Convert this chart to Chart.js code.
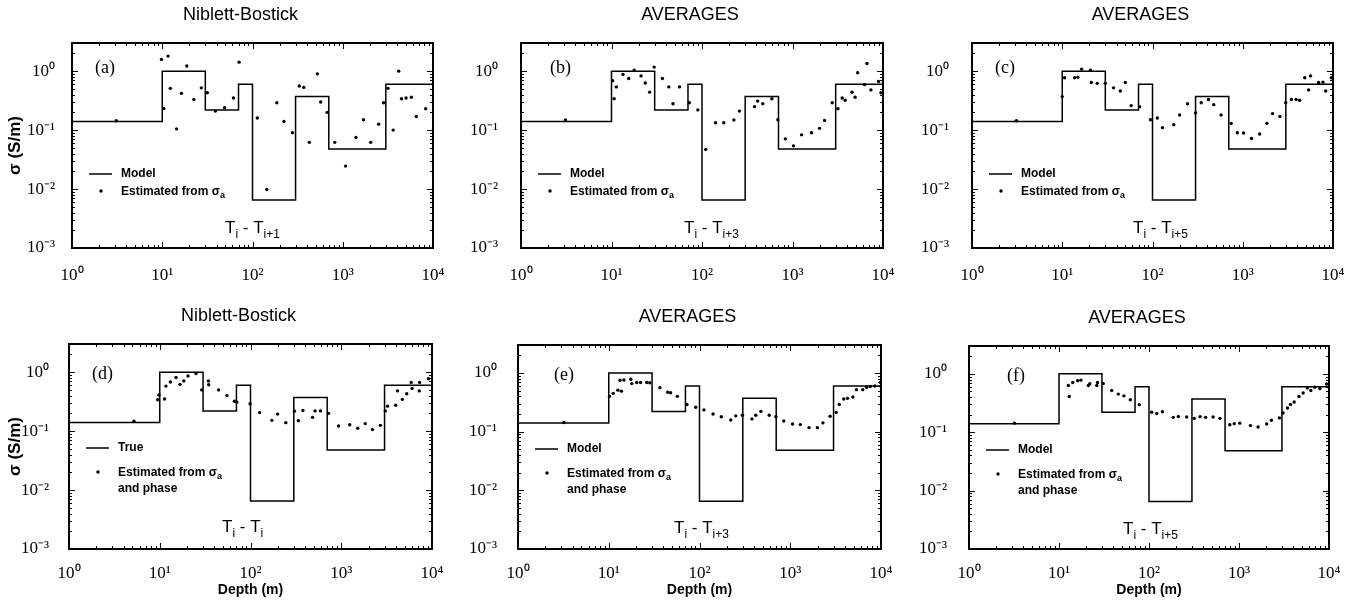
<!DOCTYPE html>
<html>
<head>
<meta charset="utf-8">
<script src="https://cdn.jsdelivr.net/npm/chart.js@4.4.1/dist/chart.umd.min.js"></script>
<style>
body { margin: 0; background: #fff; }
#fig { position: relative; width: 1357px; height: 603px; overflow: hidden; background: #fff; }
#fig canvas { position: absolute; }
</style>
</head>
<body>
<div id="fig"></div>
<script>
// layered model (step function), depth in m, conductivity in S/m
const modelDepth = [1, 10, 30, 70, 100, 300, 700, 3000, 10000];
const modelSigma = [0.14, 1.0, 0.22, 0.6, 0.0065, 0.37, 0.048, 0.6, 0.6];

// (a) Niblett-Bostick, Ti - Ti+1
const depthA = [3.1, 9.8, 11.6, 10.4, 12.3, 14.4, 16.3, 18.7, 22.4, 27.1, 31.6, 38.8, 49, 61.5, 71, 113, 144, 186, 223, 277, 330, 370, 426, 523, 569, 673, 815, 1075, 1400, 1700, 2040, 2500, 2830, 3170, 3620, 4170, 4470, 5030, 5760, 6530, 8300];
const sigmaA = [0.144, 1.58, 1.8, 0.233, 0.51, 0.105, 0.42, 1.22, 0.33, 0.52, 0.43, 0.21, 0.24, 0.35, 1.42, 0.16, 0.0098, 0.29, 0.14, 0.09, 0.56, 0.53, 0.062, 0.9, 0.3, 0.2, 0.062, 0.0245, 0.075, 0.15, 0.062, 0.126, 0.29, 0.51, 0.1, 1.0, 0.34, 0.35, 0.36, 0.17, 0.23];

// (b) averages, Ti - Ti+3
const depthB = [3.1, 10.3, 11.3, 10.7, 13.4, 15.5, 17.8, 21.2, 23.6, 26.4, 29.6, 36.5, 43, 47.8, 56.4, 72.4, 90, 110, 141, 174, 225, 259, 381, 412, 469, 592, 688, 834, 1025, 1260, 1620, 1990, 2260, 2750, 3180, 3540, 3820, 4550, 4920, 5250, 6250, 6650, 7360, 8930, 9500];
const sigmaB = [0.148, 0.69, 0.54, 0.34, 0.88, 0.75, 1.04, 0.83, 0.63, 0.44, 1.17, 0.75, 0.54, 0.28, 0.54, 0.29, 0.22, 0.047, 0.133, 0.133, 0.148, 0.21, 0.25, 0.31, 0.28, 0.34, 0.15, 0.071, 0.054, 0.083, 0.09, 0.107, 0.146, 0.29, 0.23, 0.35, 0.32, 0.44, 0.36, 0.94, 0.59, 1.35, 0.48, 0.67, 0.43];

// (c) averages, Ti - Ti+5
const depthC = [3.1, 10, 10.6, 13.7, 14.9, 16.4, 20.5, 21, 24.4, 30, 37, 44, 50, 58, 72, 95, 113, 129, 172, 200, 245, 300, 347, 417, 477, 576, 745, 870, 1020, 1250, 1540, 1850, 2140, 2580, 2990, 3460, 3900, 4270, 4860, 5640, 5370, 6920, 7740, 8300, 9570];
const sigmaC = [0.144, 0.37, 0.77, 0.77, 0.79, 1.08, 1.04, 0.64, 0.62, 0.62, 0.52, 0.46, 0.64, 0.26, 0.25, 0.15, 0.16, 0.11, 0.123, 0.18, 0.28, 0.195, 0.29, 0.33, 0.27, 0.18, 0.13, 0.09, 0.089, 0.072, 0.086, 0.13, 0.19, 0.17, 0.29, 0.33, 0.33, 0.32, 0.77, 0.83, 0.48, 0.64, 0.65, 0.46, 0.77];

// (d) Niblett-Bostick with phase, Ti - Ti
const depthD = [5.2, 9.5, 9.8, 11.3, 11.7, 13.1, 15.1, 16.7, 18.4, 20.5, 25.1, 29, 34.4, 34.6, 44.5, 55, 66.5, 70.7, 99, 126, 172, 199, 245, 305, 337, 378, 482, 515, 590, 724, 935, 1240, 1520, 1840, 2210, 2700, 3060, 3240, 3980, 4170, 4710, 5270, 6030, 5900, 7300, 7240, 9140];
const sigmaD = [0.147, 0.34, 0.41, 0.35, 0.58, 0.68, 0.81, 0.62, 0.71, 0.86, 0.95, 0.5, 0.71, 0.61, 0.5, 0.4, 0.32, 0.31, 0.29, 0.206, 0.152, 0.194, 0.139, 0.218, 0.15, 0.223, 0.171, 0.22, 0.22, 0.2, 0.122, 0.128, 0.112, 0.134, 0.106, 0.125, 0.22, 0.265, 0.275, 0.48, 0.345, 0.43, 0.53, 0.67, 0.67, 0.48, 0.77];

// (e) averages with phase, Ti - Ti+3
const depthE = [3.2, 10.2, 11.2, 12.6, 13.3, 13.8, 14.7, 17.5, 17.9, 20.3, 22.4, 26.2, 28.3, 36.6, 44.6, 48, 57, 72.8, 91, 112, 141, 174, 221, 251, 297, 378, 417, 475, 586, 695, 848, 1060, 1290, 1610, 1990, 2290, 2750, 3210, 3470, 3880, 4270, 4900, 5350, 6300, 6940, 7620, 8530, 9900];
const sigmaE = [0.143, 0.4, 0.45, 0.51, 0.75, 0.49, 0.76, 0.78, 0.66, 0.69, 0.69, 0.69, 0.68, 0.56, 0.47, 0.46, 0.4, 0.29, 0.26, 0.235, 0.2, 0.18, 0.158, 0.186, 0.19, 0.165, 0.19, 0.22, 0.19, 0.18, 0.152, 0.135, 0.132, 0.117, 0.117, 0.141, 0.183, 0.213, 0.29, 0.36, 0.37, 0.39, 0.52, 0.52, 0.57, 0.59, 0.6, 0.69];

// (f) averages with phase, Ti - Ti+5
const depthF = [3.2, 12.7, 13, 14.2, 16.1, 17.5, 21.2, 22, 26.3, 26.8, 31, 38.5, 45.6, 52.6, 62, 78, 107, 122, 141, 186, 212, 262, 318, 369, 425, 516, 614, 791, 886, 1020, 1340, 1630, 2030, 2290, 2810, 3090, 3460, 3740, 4100, 4640, 5160, 5740, 6280, 6940, 7930, 9400];
const sigmaF = [0.143, 0.63, 0.41, 0.71, 0.76, 0.78, 0.63, 0.68, 0.63, 0.71, 0.68, 0.52, 0.45, 0.42, 0.36, 0.295, 0.22, 0.21, 0.224, 0.18, 0.186, 0.182, 0.173, 0.185, 0.18, 0.182, 0.173, 0.134, 0.14, 0.143, 0.13, 0.123, 0.138, 0.16, 0.176, 0.214, 0.26, 0.3, 0.33, 0.41, 0.47, 0.57, 0.52, 0.59, 0.56, 0.67];

const xTicks = [1, 10, 100, 1000, 10000];
const xTickLabels = ['10⁰', '10¹', '10²', '10³', '10⁴'];
const yTicks = [0.001, 0.01, 0.1, 1];
const yTickLabels = ['10⁻³', '10⁻²', '10⁻¹', '10⁰'];

const SANS = '"Liberation Sans", Arial, Helvetica, sans-serif';
const SERIF = '"Liberation Serif", "Times New Roman", serif';

// plot = [left, top, right, bottom] of the frame in page pixels
const panels = [
  { letter: 'a', title: 'Niblett-Bostick', left: 0, top: 0, w: 445, h: 290, plot: [72, 43, 433, 248], gap: 9, ytitle: true,
    depth: depthA, sigma: sigmaA, line: 'Model', phase: false, sub: 'i+1', lx: 23, tx: 153 },
  { letter: 'b', title: 'AVERAGES', left: 445, top: 0, w: 450, h: 290, plot: [521, 43, 883, 248], gap: 15, ytitle: false,
    depth: depthB, sigma: sigmaB, line: 'Model', phase: false, sub: 'i+3', lx: 29, tx: 163 },
  { letter: 'c', title: 'AVERAGES', left: 895, top: 0, w: 462, h: 290, plot: [972, 43, 1333, 248], gap: 15, ytitle: false,
    depth: depthC, sigma: sigmaC, line: 'Model', phase: false, sub: 'i+5', lx: 23, tx: 161 },
  { letter: 'd', title: 'Niblett-Bostick', left: 0, top: 290, w: 445, h: 313, plot: [69, 344, 432, 549], gap: 12, ytitle: true,
    depth: depthD, sigma: sigmaD, line: 'True', phase: true, sub: 'i', lx: 23, tx: 153 },
  { letter: 'e', title: 'AVERAGES', left: 445, top: 290, w: 450, h: 313, plot: [518, 345, 881, 549], gap: 13, ytitle: false,
    depth: depthE, sigma: sigmaE, line: 'Model', phase: true, sub: 'i+3', lx: 36, tx: 156 },
  { letter: 'f', title: 'AVERAGES', left: 895, top: 290, w: 462, h: 313, plot: [969, 346, 1329, 549], gap: 14, ytitle: false,
    depth: depthF, sigma: sigmaF, line: 'Model', phase: true, sub: 'i+5', lx: 38, tx: 154 }
];

function drawRuns(ctx, x, y, runs, size, subSize, drop, weight) {
  ctx.textAlign = 'left';
  ctx.textBaseline = 'alphabetic';
  runs.forEach(([t, sub]) => {
    ctx.font = weight + ' ' + (sub ? subSize : size) + 'px ' + SANS;
    ctx.fillText(t, x, y + (sub ? drop : 0));
    x += ctx.measureText(t).width;
  });
}

const decor = {
  id: 'decor',
  afterDraw(chart, args, o) {
    const ctx = chart.ctx;
    const a = chart.chartArea;
    const xs = chart.scales.x;
    const ys = chart.scales.y;
    ctx.save();

    // inward ticks on all four sides
    ctx.strokeStyle = '#000';
    ctx.lineWidth = 1;
    ctx.beginPath();
    for (let d = 0; d < 4; d++) {
      for (let m = 1; m < 10; m++) {
        const px = Math.round(xs.getPixelForValue(m * Math.pow(10, d))) + 0.5;
        const len = m === 1 ? 6 : 3;
        ctx.moveTo(px, a.bottom); ctx.lineTo(px, a.bottom - len);
        ctx.moveTo(px, a.top); ctx.lineTo(px, a.top + len);
      }
    }
    for (let d = -3; d <= 0; d++) {
      for (let m = 1; m < 10; m++) {
        const v = m * Math.pow(10, d);
        if (v > 3) break;
        const py = Math.round(ys.getPixelForValue(v)) + 0.5;
        const len = m === 1 ? 6 : 3;
        ctx.moveTo(a.left, py); ctx.lineTo(a.left + len, py);
        ctx.moveTo(a.right, py); ctx.lineTo(a.right - len, py);
      }
    }
    ctx.stroke();

    // frame
    ctx.lineWidth = 2;
    ctx.strokeRect(a.left, a.top, a.right - a.left, a.bottom - a.top);

    ctx.fillStyle = '#000';

    // panel title
    ctx.font = '18px ' + SANS;
    ctx.textAlign = 'center';
    ctx.textBaseline = 'middle';
    ctx.fillText(o.title, (a.left + a.right) / 2 - 12, a.top - 28);

    // panel letter
    ctx.font = '18px ' + SERIF;
    ctx.textAlign = 'left';
    ctx.fillText('(' + o.letter + ')', a.left + o.lx, a.top + (o.phase ? 30 : 25));

    // legend
    const ly = a.top + (o.phase ? 104 : 131);
    ctx.lineWidth = 1.5;
    ctx.beginPath();
    ctx.moveTo(a.left + 17, ly);
    ctx.lineTo(a.left + 40, ly);
    ctx.stroke();
    ctx.font = 'bold 12px ' + SANS;
    ctx.textBaseline = 'middle';
    ctx.fillText(o.line, a.left + 49, ly);
    const dy = ly + (o.phase ? 24 : 17);
    ctx.beginPath();
    ctx.arc(a.left + 29, dy, 1.7, 0, Math.PI * 2);
    ctx.fill();
    drawRuns(ctx, a.left + 49, dy + 4, [['Estimated from σ', false], ['a', true]], 12, 9, 3, 'bold');
    if (o.phase) {
      ctx.font = 'bold 12px ' + SANS;
      ctx.fillText('and phase', a.left + 49, dy + 20);
    }

    // window label
    drawRuns(ctx, a.left + o.tx, a.top + (o.phase ? 188 : 190),
      [['T', false], ['i', true], [' - T', false], [o.sub, true]], 17, 12, 5, 'normal');

    ctx.restore();
  }
};

const fig = document.getElementById('fig');

panels.forEach(p => {
  const cv = document.createElement('canvas');
  cv.width = p.w;
  cv.height = p.h;
  cv.style.left = p.left + 'px';
  cv.style.top = p.top + 'px';
  cv.style.width = p.w + 'px';
  cv.style.height = p.h + 'px';
  fig.appendChild(cv);
  const row1 = p.top === 0;

  new Chart(cv, {
    type: 'scatter',
    data: {
      datasets: [
        {
          label: p.line,
          data: modelDepth.map((x, i) => ({ x: x, y: modelSigma[i] })),
          showLine: true,
          stepped: true,
          borderColor: '#000',
          borderWidth: 1.5,
          pointRadius: 0,
          fill: false
        },
        {
          label: 'Estimated',
          data: p.depth.map((x, i) => ({ x: x, y: p.sigma[i] })),
          pointRadius: 1.7,
          pointBackgroundColor: '#000',
          pointBorderWidth: 0
        }
      ]
    },
    options: {
      responsive: false,
      animation: false,
      devicePixelRatio: 1,
      layout: {
        padding: { top: p.plot[1] - p.top, right: p.left + p.w - p.plot[2], bottom: 0, left: 0 }
      },
      plugins: {
        legend: { display: false },
        tooltip: { enabled: false },
        decor: { title: p.title, letter: p.letter, line: p.line, phase: p.phase, sub: p.sub, lx: p.lx, tx: p.tx }
      },
      scales: {
        x: {
          type: 'logarithmic',
          min: 1,
          max: 10000,
          grid: { display: false },
          border: { display: false },
          afterBuildTicks: s => { s.ticks = xTicks.map(v => ({ value: v })); },
          afterFit: s => {
            s.height = p.top + p.h - p.plot[3];
            s.paddingLeft = 0;
            s.paddingRight = 0;
          },
          ticks: {
            autoSkip: false,
            maxRotation: 0,
            padding: row1 ? 9 : 6,
            color: '#000',
            font: { family: SERIF, size: 17 },
            callback: v => xTickLabels[xTicks.indexOf(v)]
          },
          title: {
            display: !row1,
            text: 'Depth (m)',
            color: '#000',
            font: { family: SANS, size: 14, weight: 'bold' },
            padding: { top: 0, bottom: 4.6 }
          }
        },
        y: {
          type: 'logarithmic',
          min: 0.001,
          max: 3,
          grid: { display: false },
          border: { display: false },
          afterBuildTicks: s => { s.ticks = yTicks.map(v => ({ value: v })); },
          afterFit: s => {
            s.width = p.plot[0] - p.left;
            s.paddingTop = 0;
            s.paddingBottom = 0;
          },
          ticks: {
            autoSkip: false,
            padding: p.gap,
            color: '#000',
            font: { family: SERIF, size: 17 },
            callback: v => yTickLabels[yTicks.indexOf(v)]
          },
          title: {
            display: p.ytitle,
            text: 'σ (S/m)',
            color: '#000',
            font: { family: SANS, size: 17, weight: 'bold' },
            padding: { top: 5, bottom: 0 }
          }
        }
      }
    },
    plugins: [decor]
  });
});
</script>
</body>
</html>
